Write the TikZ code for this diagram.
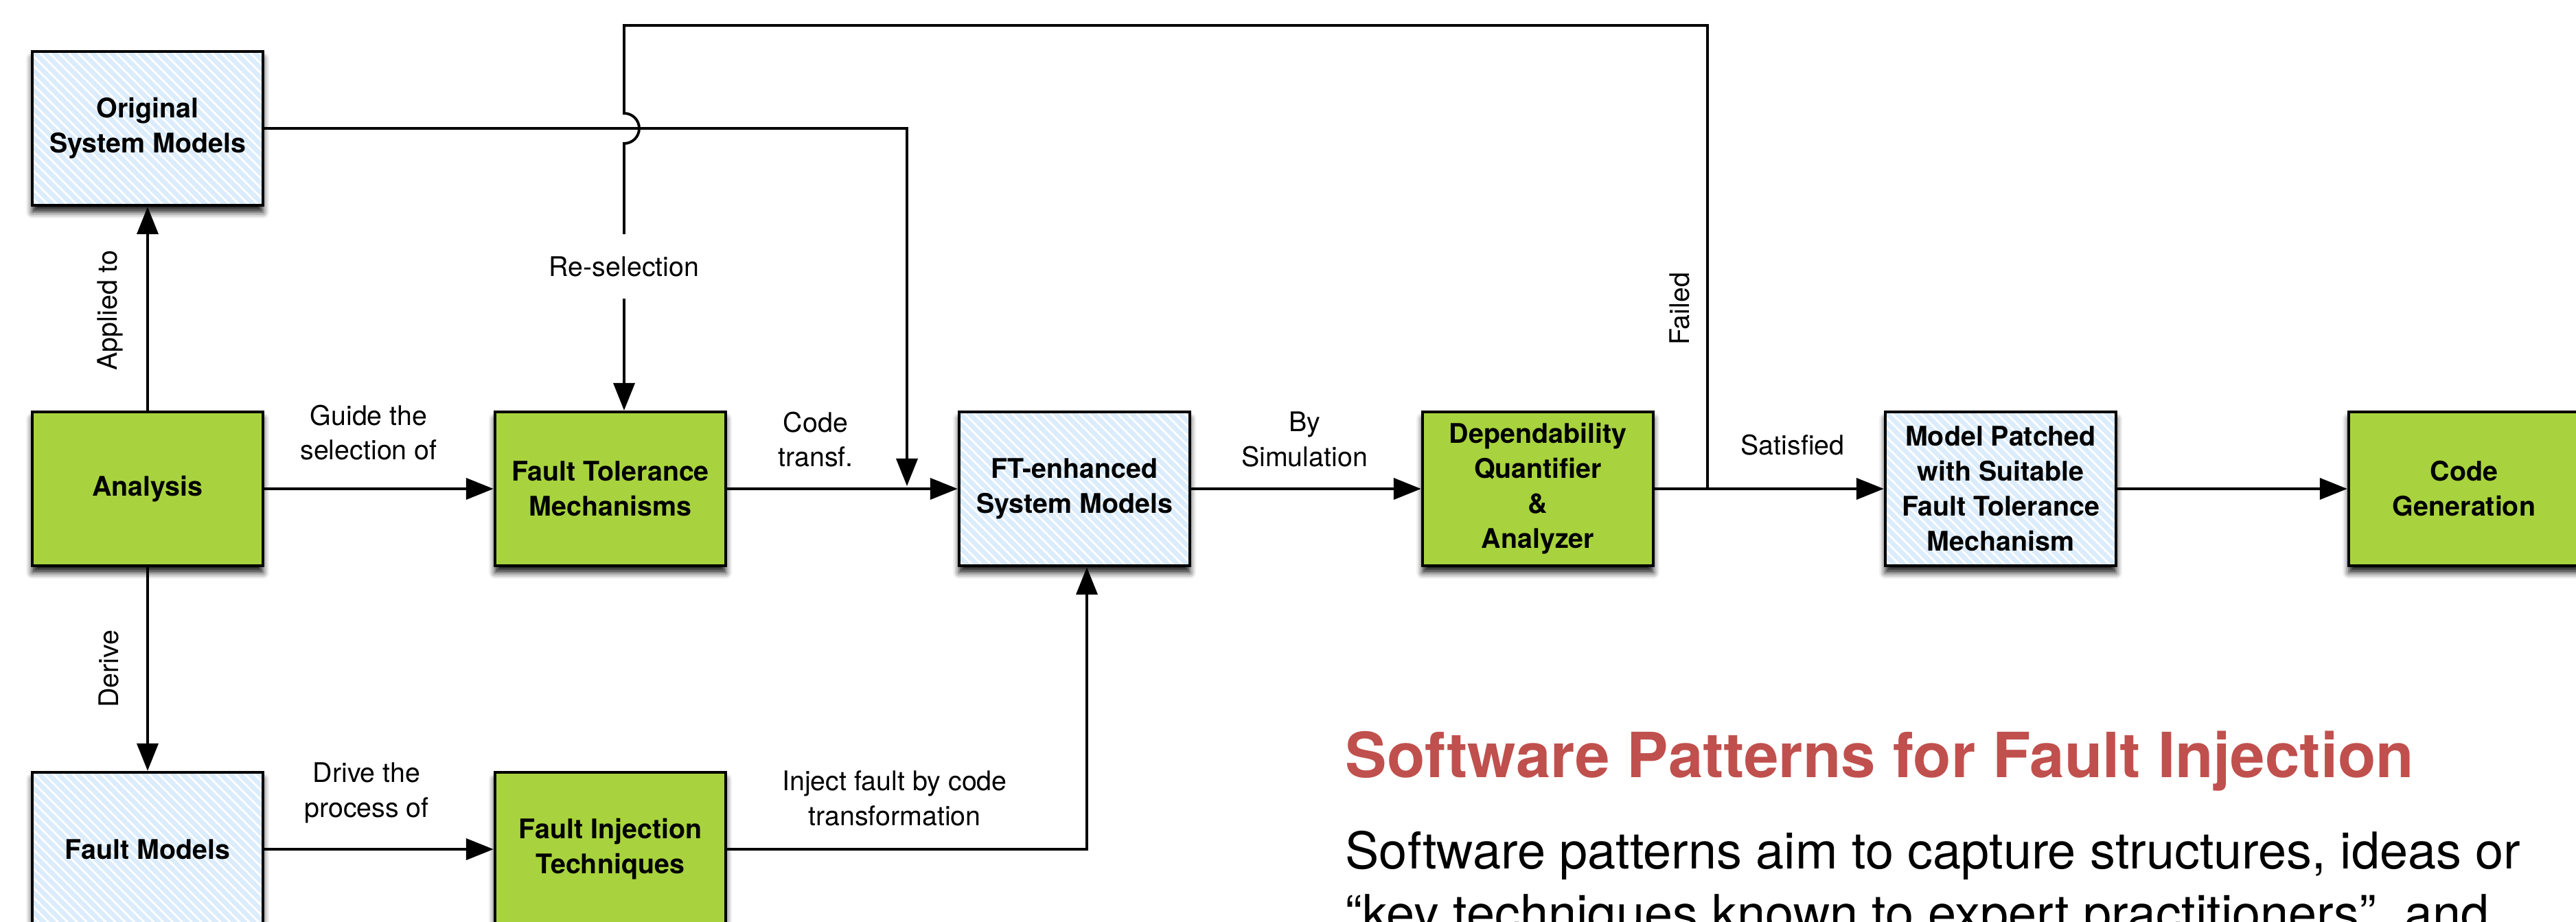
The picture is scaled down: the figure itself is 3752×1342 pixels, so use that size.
\documentclass[tikz,border=0pt]{standalone}
\usepackage{fontspec}
\setmainfont{TeX Gyre Heros}
\usetikzlibrary{arrows.meta,positioning,calc,shadows.blur,patterns.meta}
\definecolor{ftgreen}{RGB}{168,211,62}
\definecolor{ftblue}{RGB}{219,236,252}
\definecolor{titlered}{RGB}{192,80,77}

\begin{document}
\begin{tikzpicture}[x=0.01cm, y=-0.01cm,
    box/.style={draw=black, line width=1.2pt, minimum width=3.36cm, minimum height=2.24cm,
      align=center, font=\bfseries\fontsize{11.2}{14.5}\selectfont,
      blur shadow={shadow xshift=0pt, shadow yshift=-0.1cm, shadow blur radius=0.09cm, shadow opacity=90}},
    greenbox/.style={box, fill=ftgreen},
    bluebox/.style={box, fill=ftblue,
      postaction={pattern={Lines[angle=-45,distance=2.8pt,line width=0.8pt]}, pattern color=white,
        draw=black, line width=1.2pt}},
    lab/.style={align=center, font=\fontsize{11.2}{14.4}\selectfont},
    link/.style={line width=1.1pt},
    arr/.style={link, -{Triangle[length=0.4cm,width=0.31cm]}}]
    \useasboundingbox (0,0) rectangle (3752,1342);
    \clip (0,0) rectangle (3752,1342);
    % Boxes
    \node[bluebox] (orig) at (215,187) {Original\\System Models};
    \node[greenbox] (ana) at (215,712) {Analysis};
    \node[greenbox] (ftm) at (889,712) {Fault Tolerance\\Mechanisms};
    \node[bluebox] (fte) at (1565,712) {FT-enhanced\\System Models};
    \node[greenbox] (dqa) at (2240,712) {Dependability\\Quantifier\\\&\\Analyzer};
    \node[bluebox] (mp) at (2914,712) {Model Patched\\with Suitable\\Fault Tolerance\\Mechanism};
    \node[greenbox] (cg) at (3589,712) {Code\\Generation};
    \node[bluebox] (fm) at (215,1237) {Fault Models};
    \node[greenbox] (fit) at (889,1237) {Fault Injection\\Techniques};
    % Main row
    \draw[arr] (ana) -- (ftm);
    \draw[arr] (ftm) -- (fte);
    \draw[arr] (fte) -- (dqa);
    \draw[arr] (dqa) -- (mp);
    \draw[arr] (mp) -- (cg);
    \coordinate (fork) at (2487,712);
    \coordinate (merge) at (1321,708);
    \draw[arr] (orig) -| (merge);
    % Left column and lower row
    \draw[arr] (ana) -- (orig);
    \draw[arr] (ana) -- (fm);
    \draw[arr] (fm) -- (fit);
    \draw[arr] (fit) -| ($(fte.south)+(18,0)$);
    % Feedback loop
    \node[lab, inner ysep=9pt] (resel) at (909,388) {Re-selection};
    \draw[link] (fork) |- (909,37) -- (909,165)
      arc[start angle=-90, end angle=90, radius=22] -- (resel);
    \draw[arr] (resel) -- (resel |- ftm.north);
    % Labels
    \node[lab, rotate=90] (applied) at (160,452) {Applied to};
    \node[lab] (guide) at (537,630) {Guide the\\selection of};
    \node[lab] (codetr) at (1188,640) {Code\\transf.};
    \node[lab] (bysim) at (1900,640) {By\\Simulation};
    \node[lab] (sat) at (2611,648) {Satisfied};
    \node[lab, rotate=90] (failed) at (2446,450) {Failed};
    \node[lab, rotate=90] (derive) at (158,974) {Derive};
    \node[lab] (drive) at (534,1155) {Drive the\\process of};
    \node[lab] (inject) at (1303,1163) {Inject fault by code\\transformation};
    % Text
    \node[anchor=base west, inner sep=0pt, text=titlered, font=\bfseries\fontsize{25.8}{31}\selectfont]
      (title) at (1959,1132) {Software Patterns for Fault Injection};
    \node[anchor=base west, inner sep=0pt, font=\fontsize{21}{26}\selectfont]
      (body1) at (1959,1265) {Software patterns aim to capture structures, ideas or};
    \node[anchor=base west, inner sep=0pt, font=\fontsize{21}{26}\selectfont]
      (body2) at (1959,1356) {“key techniques known to expert practitioners”, and};
  \end{tikzpicture}
\end{document}
